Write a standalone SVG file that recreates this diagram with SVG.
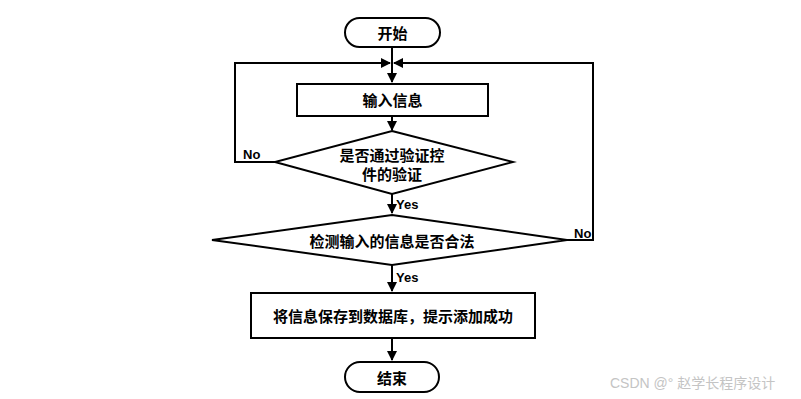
<svg xmlns="http://www.w3.org/2000/svg" width="801" height="399" viewBox="0 0 801 399">
<style>
.s{fill:#fff;stroke:#000;stroke-width:2}
.t{font-family:"Liberation Sans","Noto Sans CJK SC",sans-serif;font-weight:bold;font-size:15px;fill:#000;text-anchor:middle;dominant-baseline:central}
.l{font-family:"Liberation Sans","Noto Sans CJK SC",sans-serif;font-weight:bold;font-size:13px;fill:#000}
.c{fill:none;stroke:#000;stroke-width:2}
</style>
<defs>
<marker id="a" viewBox="0 0 10 10" refX="9" refY="5" markerWidth="5" markerHeight="5" orient="auto"><path d="M0,0L10,5L0,10z" fill="#000"/></marker>
</defs>
<rect width="801" height="399" fill="#fff"/>
<g id="edges">
<path class="c" d="M392,47V82" marker-end="url(#a)"/>
<path class="c" d="M392,116V130" marker-end="url(#a)"/>
<path class="c" d="M392,194V213" marker-end="url(#a)"/>
<path class="c" d="M392,265V291" marker-end="url(#a)"/>
<path class="c" d="M392,338V360" marker-end="url(#a)"/>
<path class="c" d="M275,162H235V63H390" marker-end="url(#a)"/>
<path class="c" d="M567,240H593V63H394" marker-end="url(#a)"/>
<text class="l" x="243" y="159">No</text>
<text class="l" x="574" y="238">No</text>
<text class="l" x="396" y="209">Yes</text>
<text class="l" x="396" y="282">Yes</text>
</g>
<g id="start"><rect class="s" x="345" y="18" width="95" height="29" rx="14.5"/><text class="t" x="392.5" y="33">开始</text></g>
<g id="input"><rect class="s" x="297" y="84" width="191" height="32"/><text class="t" x="392.5" y="100">输入信息</text></g>
<g id="check1"><polygon class="s" points="392,131 513,162 392,194 275,162"/><text class="t" x="392" y="155">是否通过验证控</text><text class="t" x="392" y="174">件的验证</text></g>
<g id="check2"><polygon class="s" points="392,215 567,240 392,265 212,240"/><text class="t" x="392" y="241">检测输入的信息是否合法</text></g>
<g id="save"><rect class="s" x="251" y="293" width="284" height="45"/><text class="t" x="393" y="316">将信息保存到数据库，提示添加成功</text></g>
<g id="end"><rect class="s" x="345" y="362" width="94" height="30" rx="15"/><text class="t" x="392" y="378">结束</text></g>
<text x="610" y="388" font-family="'Liberation Sans','Noto Sans CJK SC',sans-serif" font-size="14" fill="#c4c4c4">CSDN @°  赵学长程序设计</text>
</svg>
